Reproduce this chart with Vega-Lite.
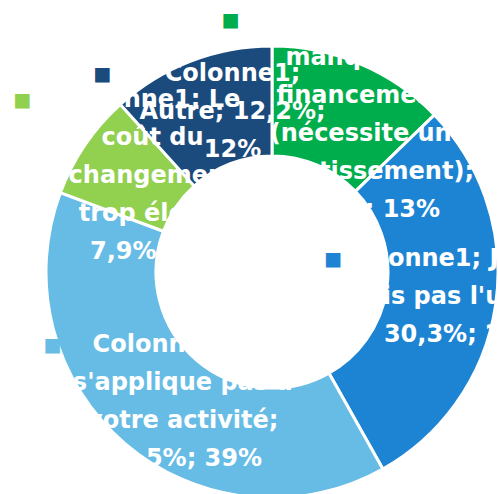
{
  "$schema": "https://vega.github.io/schema/vega-lite/v6.json",
  "width": 498,
  "height": 494,
  "autosize": "none",
  "padding": 0,
  "background": "white",
  "config": {"view": {"stroke": null}},
  "data": {
    "values": [
      {"i": 1, "cat": "Le manque de financement (nécessite un investissement)", "val": 13.3, "lines": ["Colonne1; Le", "manque de", "financement", "(nécessite un", "investissement);", "13,3%; 13%"], "key": ["■", "", "", "", "", ""]},
      {"i": 2, "cat": "Je n'en vois pas l'utilité", "val": 30.3, "lines": ["Colonne1; Je n'en", "vois pas l'utilité;", "30,3%; 29%"], "key": ["■", "", ""]},
      {"i": 3, "cat": "Ne s'applique pas à votre activité", "val": 40.5, "lines": ["Colonne1; Ne", "s'applique pas à", "votre activité;", "40,5%; 39%"], "key": ["■", "", "", ""]},
      {"i": 4, "cat": "Le coût du changement trop élevé", "val": 7.9, "lines": ["Colonne1; Le", "coût du", "changement", "trop élevé;", "7,9%; 8%"], "key": ["■", "", "", "", ""]},
      {"i": 5, "cat": "Autre", "val": 12.2, "lines": ["Colonne1;", "Autre; 12,2%;", "12%"], "key": ["■", "", ""]}
    ]
  },
  "encoding": {
    "theta": {"field": "val", "type": "quantitative", "stack": true},
    "order": {"field": "i", "type": "quantitative"},
    "color": {
      "field": "cat",
      "type": "nominal",
      "scale": {
        "domain": ["Le manque de financement (nécessite un investissement)", "Je n'en vois pas l'utilité", "Ne s'applique pas à votre activité", "Le coût du changement trop élevé", "Autre"],
        "range": ["#00AD4C", "#1D84D4", "#67BCE6", "#92D050", "#1B4A7D"]
      },
      "legend": null
    }
  },
  "layer": [
    {"mark": {"type": "arc", "x": 272, "y": 272, "outerRadius": 226, "innerRadius": 116, "stroke": "white", "strokeWidth": 3}},
    {"mark": {"type": "text", "x": 272, "y": 272, "radius": 171, "dx": -108, "dy": {"expr": "-(length(datum.key)-1)*19"}, "font": "DejaVu Sans", "fontSize": 19, "lineHeight": 38, "baseline": "middle", "align": "center"},
     "encoding": {"text": {"field": "key", "type": "nominal"}}},
    {"mark": {"type": "text", "x": 272, "y": 272, "radius": 171, "dx": 22, "dy": {"expr": "-(length(datum.lines)-1)*19"}, "font": "DejaVu Sans", "fontWeight": "bold", "fontSize": 24, "lineHeight": 38, "baseline": "middle", "align": "center"},
     "encoding": {"text": {"field": "lines", "type": "nominal"}, "color": {"value": "white"}}}
  ]
}
